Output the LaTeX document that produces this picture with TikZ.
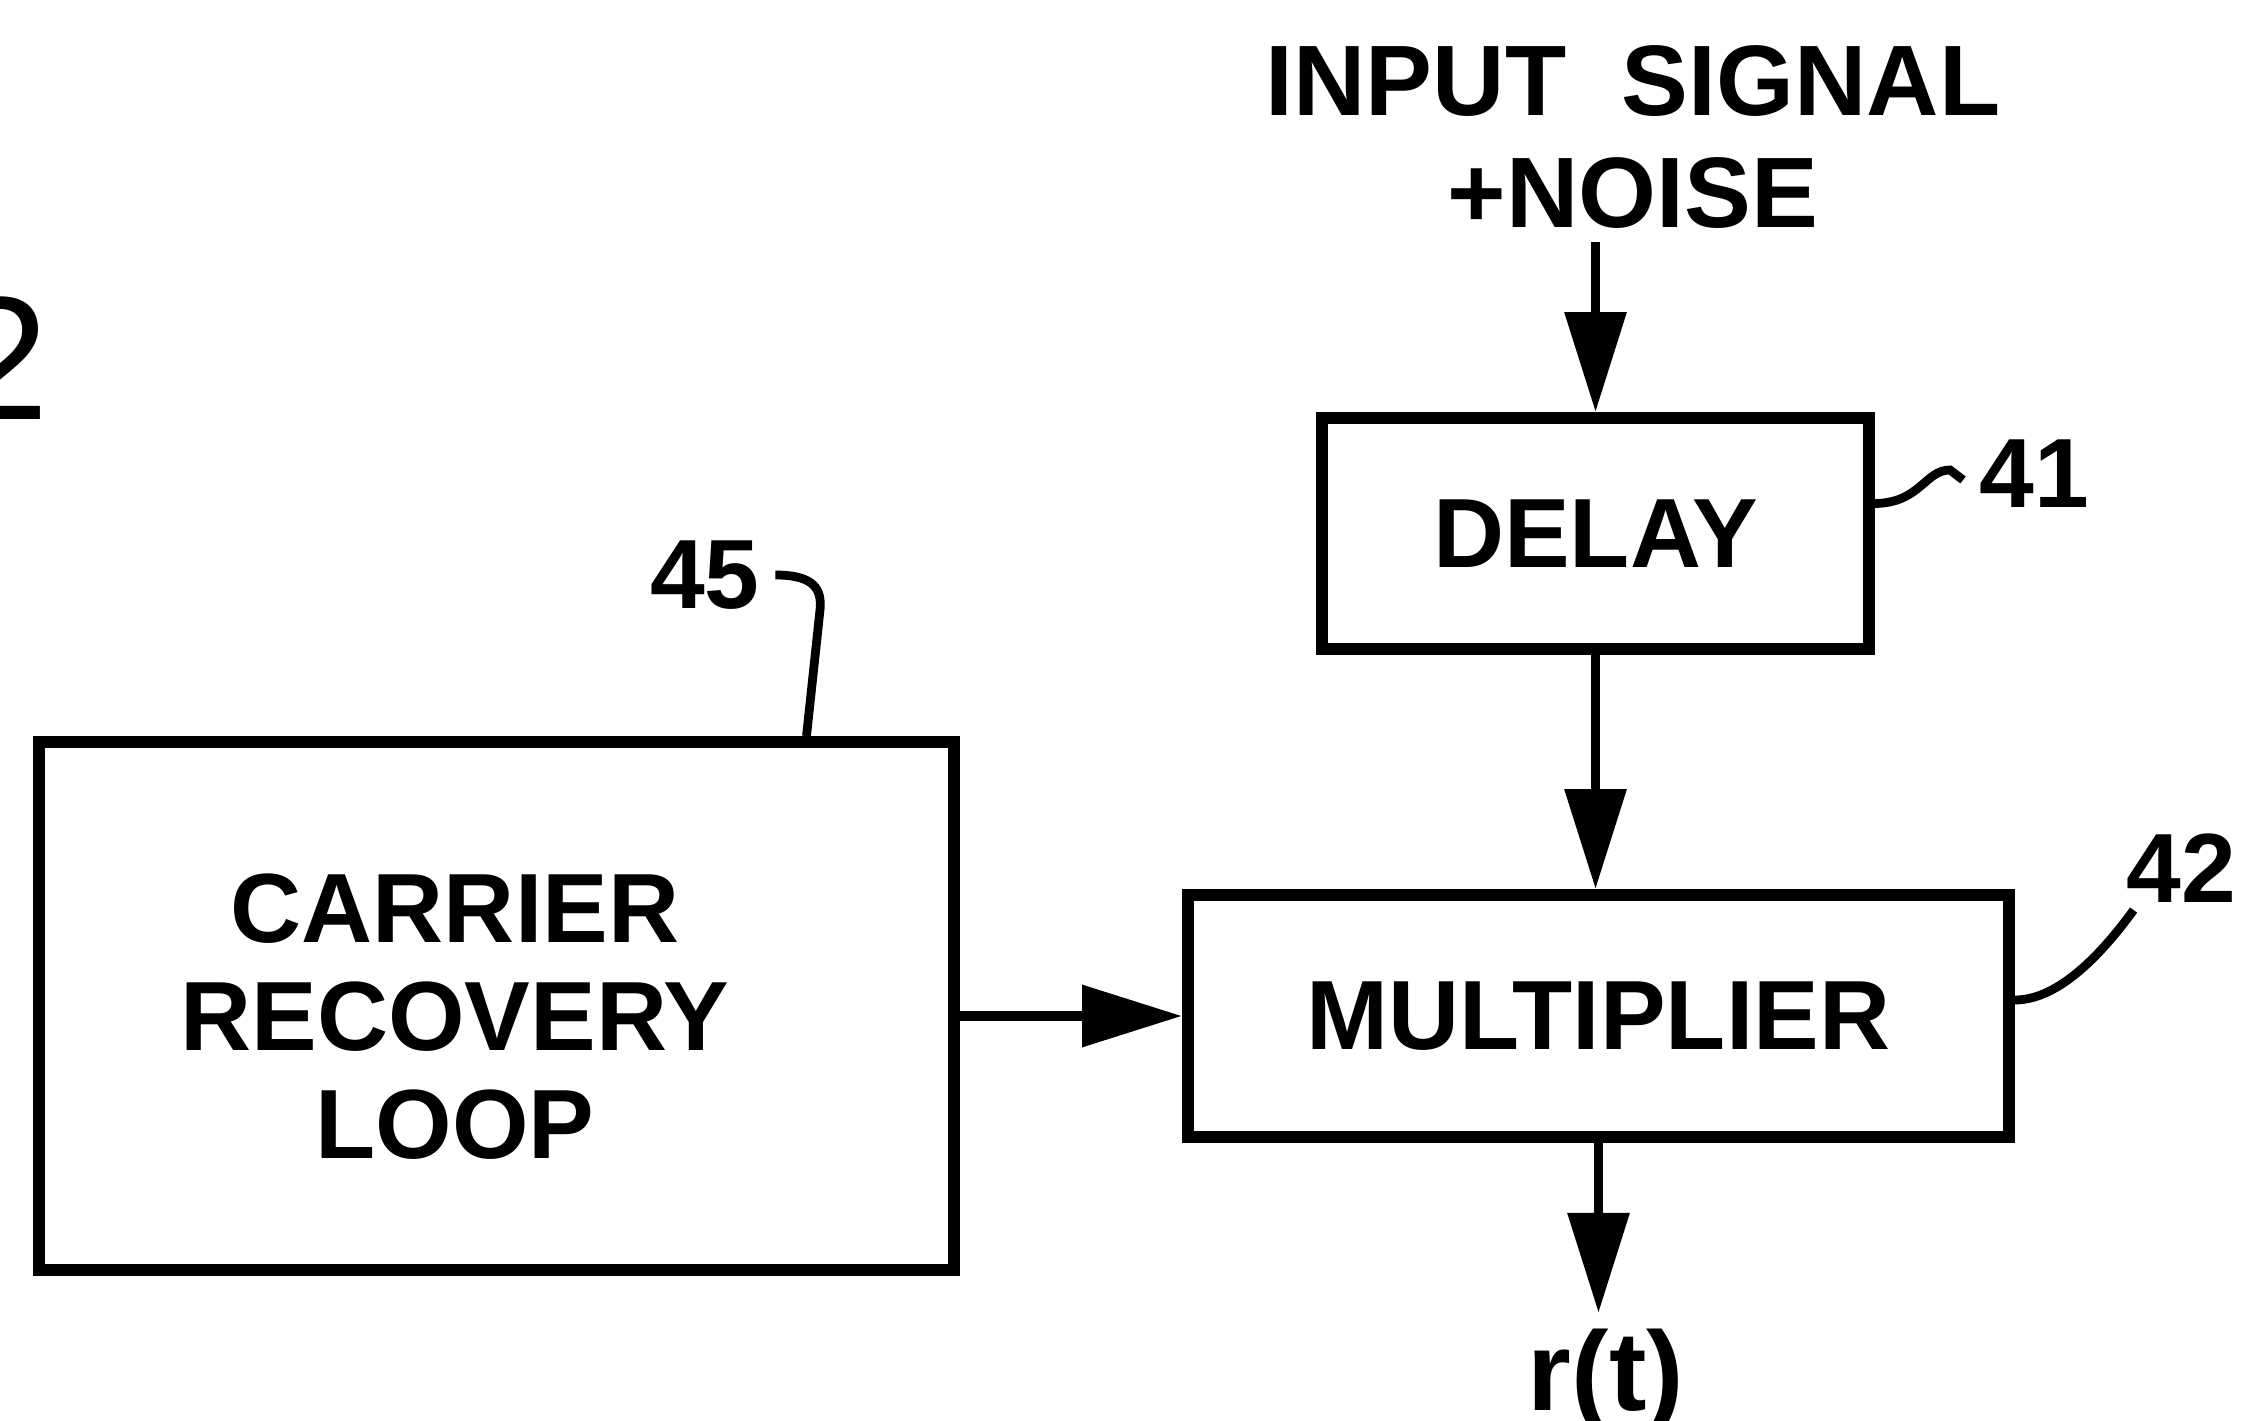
\documentclass[tikz,border=0pt]{standalone}
\usepackage{fontspec}
\setmainfont{Liberation Sans}
\usetikzlibrary{positioning,arrows.meta,calc}

\begin{document}
\begin{tikzpicture}[
box/.style={draw,line width=3.4pt,inner sep=0pt,font=\fontsize{28}{31}\selectfont\bfseries},
lbl/.style={inner sep=0pt,font=\fontsize{28}{31}\selectfont\bfseries},
sig/.style={-{Triangle[length=10mm,width=6mm]},line width=2.8pt},
lead/.style={line width=2.5pt},
scale=1.0
]
\useasboundingbox (0,0) rectangle (22.41,14.20);

\node[font=\fontsize{50}{50}\selectfont,inner sep=0pt,anchor=base east] (fig) at (0.50,10.0) {2};

\node[box,minimum width=5.47cm,minimum height=2.31cm] (delay) at (15.955,8.865) {DELAY};
\node[box,minimum width=8.21cm,minimum height=2.42cm] (mult) at (15.985,4.04) {MULTIPLIER};
\node[box,minimum width=9.15cm,minimum height=5.28cm] (carrier) at (4.965,4.14) {};
\node[lbl,align=center,font=\fontsize{28}{30.7}\selectfont\bfseries] (carriertxt) at (4.55,4.03) {CARRIER\\RECOVERY\\LOOP};

\node[lbl,inner sep=0.13cm,align=center,font=\fontsize{28.5}{31.9}\selectfont\bfseries] (input) at (16.33,12.83) {INPUT\ \ SIGNAL\\+NOISE};
\node[lbl,inner sep=0.15cm,anchor=base,font=\fontsize{32}{34}\selectfont\bfseries] (rt) at (16.06,0.10) {r(t)};

\node[lbl,anchor=west] (n41) at (19.79,9.46) {41};
\node[lbl] (n42) at (21.81,5.52) {42};
\node[lbl] (n45) at (7.05,8.45) {45};

\draw[sig] (input.south -| delay.north) -- (delay.north);
\draw[sig] (delay.south) -- (delay.south |- mult.north);
\draw[sig] (carrier.east |- mult.west) -- (mult.west);
\draw[sig] (mult.south) -- (rt.north -| mult.south);

\draw[lead] ([yshift=0.3cm]delay.east) .. controls (19.2,9.17) and (19.25,9.5) .. (19.5,9.5) -- ([xshift=-1.6mm,yshift=-0.6mm]n41.west);
\draw[lead] ([yshift=0.16cm]mult.east) .. controls (20.5,4.2) and (20.9,4.5) .. ([xshift=0.08cm,yshift=-0.07cm]n42.south west);
\draw[lead] ([xshift=1.5mm]n45.east) .. controls (8.15,8.45) and (8.22,8.3) .. (8.2,8.1) -- ([xshift=3.1cm]carrier.north);
\end{tikzpicture}
\end{document}
